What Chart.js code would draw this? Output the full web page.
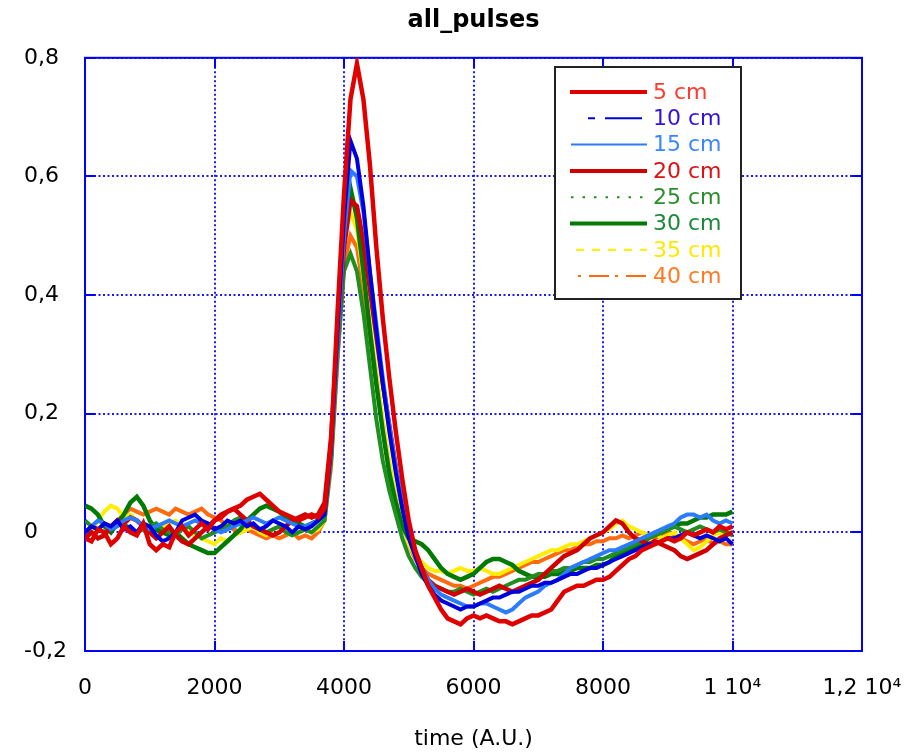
<!DOCTYPE html>
<html><head><meta charset="utf-8">
<script src="https://cdn.jsdelivr.net/npm/chart.js@4.4.0/dist/chart.umd.min.js"></script>
<style>html,body{margin:0;padding:0;background:#fff;}canvas{display:block;}</style>
</head><body>
<canvas id="c" width="907" height="752"></canvas>
<script>
const times = [0,100,200,300,400,500,600,700,800,900,
1000,1100,1200,1300,1400,1500,1600,1700,1800,1900,
2000,2100,2200,2300,2400,2500,2600,2700,2800,2900,
3000,3100,3200,3300,3400,3500,3600,3700,3800,3900,
4000,4100,4200,4300,4400,4500,4600,4700,4800,4900,
5000,5100,5200,5300,5400,5500,5600,5700,5800,5900,
6000,6100,6200,6300,6400,6500,6600,6700,6800,6900,
7000,7100,7200,7300,7400,7500,7600,7700,7800,7900,
8000,8100,8200,8300,8400,8500,8600,8700,8800,8900,
9000,9100,9200,9300,9400,9500,9600,9700,9800,9900,10000];

const s5cm = [-0.01,-0.015,0.005,0.0,-0.02,-0.01,0.01,0.0,-0.005,0.015,
-0.02,-0.03,-0.02,-0.025,0.0,0.01,-0.005,0.005,0.015,0.005,
0.02,0.025,0.035,0.04,0.045,0.055,0.06,0.065,0.055,0.045,
0.035,0.03,0.025,0.02,0.025,0.03,0.025,0.04,0.15,0.37,
0.57,0.73,0.79,0.73,0.62,0.48,0.36,0.26,0.17,0.09,
0.02,-0.03,-0.06,-0.09,-0.11,-0.13,-0.145,-0.15,-0.155,-0.145,
-0.14,-0.145,-0.14,-0.145,-0.15,-0.15,-0.155,-0.15,-0.145,-0.14,
-0.14,-0.135,-0.13,-0.115,-0.1,-0.095,-0.09,-0.09,-0.085,-0.08,
-0.08,-0.075,-0.065,-0.055,-0.045,-0.04,-0.03,-0.025,-0.02,-0.015,
-0.01,-0.015,-0.01,0.0,-0.005,0.0,0.005,0.0,0.01,0.005,0.01];

const s10cm = [0.0,0.01,0.005,0.015,0.01,0.02,0.005,0.01,0.0,0.015,
0.01,-0.005,-0.015,-0.01,0.0,0.02,0.025,0.03,0.02,0.015,
0.005,0.01,0.02,0.015,0.02,0.01,0.015,0.005,0.01,0.02,
0.015,0.01,0.0,0.01,0.005,0.01,0.02,0.03,0.14,0.34,
0.53,0.66,0.63,0.55,0.44,0.34,0.25,0.17,0.1,0.04,
-0.01,-0.04,-0.07,-0.09,-0.105,-0.115,-0.12,-0.125,-0.13,-0.125,
-0.125,-0.12,-0.115,-0.11,-0.11,-0.105,-0.1,-0.1,-0.095,-0.09,
-0.09,-0.085,-0.085,-0.08,-0.075,-0.07,-0.07,-0.065,-0.06,-0.06,
-0.055,-0.05,-0.045,-0.04,-0.035,-0.03,-0.025,-0.02,-0.02,-0.015,
-0.01,-0.01,-0.005,0.0,-0.005,-0.01,-0.005,-0.01,-0.015,-0.01,-0.02];

const s15cm = [0.0,0.01,0.02,0.015,0.005,0.01,0.02,0.025,0.02,0.01,
0.005,0.01,0.015,0.02,0.015,0.01,0.015,0.02,0.015,0.01,
0.005,0.0,0.005,0.01,0.015,0.02,0.025,0.02,0.015,0.02,
0.025,0.02,0.015,0.01,0.01,0.015,0.02,0.03,0.13,0.32,
0.5,0.61,0.6,0.54,0.44,0.35,0.26,0.18,0.11,0.05,
0.0,-0.03,-0.06,-0.08,-0.095,-0.105,-0.11,-0.115,-0.12,-0.125,
-0.125,-0.12,-0.12,-0.125,-0.13,-0.135,-0.13,-0.12,-0.11,-0.105,
-0.1,-0.09,-0.085,-0.08,-0.07,-0.06,-0.055,-0.05,-0.045,-0.04,
-0.035,-0.03,-0.03,-0.025,-0.02,-0.015,-0.01,-0.005,0.0,0.005,
0.01,0.015,0.025,0.03,0.03,0.025,0.03,0.02,0.015,0.02,0.015];

const s20cm = [-0.01,0.0,-0.01,-0.005,0.01,0.02,0.015,0.025,0.02,0.01,
0.0,-0.01,0.0,0.01,-0.005,-0.015,-0.02,-0.01,0.0,0.01,
0.02,0.03,0.035,0.04,0.03,0.02,0.01,0.005,0.0,-0.005,
0.0,0.01,0.02,0.025,0.03,0.025,0.03,0.05,0.16,0.33,
0.48,0.56,0.55,0.49,0.41,0.33,0.25,0.18,0.11,0.05,
0.0,-0.035,-0.06,-0.08,-0.09,-0.095,-0.1,-0.105,-0.1,-0.095,
-0.1,-0.105,-0.1,-0.095,-0.09,-0.095,-0.1,-0.095,-0.09,-0.085,
-0.08,-0.07,-0.06,-0.05,-0.04,-0.035,-0.03,-0.02,-0.01,-0.005,
0.0,0.01,0.02,0.015,0.0,-0.01,-0.015,-0.02,-0.015,-0.02,
-0.025,-0.03,-0.04,-0.045,-0.04,-0.035,-0.03,-0.02,-0.01,-0.005,0.0];

const s25cm = [0.02,0.01,0.005,0.0,0.01,0.02,0.015,0.005,0.0,0.005,
0.01,0.015,0.005,0.0,-0.005,0.005,0.01,0.0,-0.01,-0.005,
0.0,0.005,0.01,0.02,0.025,0.02,0.01,0.005,0.0,0.005,
0.01,0.0,-0.005,0.0,0.005,0.0,0.01,0.02,0.12,0.3,
0.44,0.47,0.44,0.37,0.28,0.19,0.12,0.07,0.03,-0.01,
-0.04,-0.06,-0.075,-0.085,-0.09,-0.095,-0.1,-0.1,-0.095,-0.1,
-0.105,-0.1,-0.095,-0.1,-0.095,-0.09,-0.085,-0.08,-0.08,-0.075,
-0.07,-0.07,-0.065,-0.065,-0.06,-0.06,-0.055,-0.05,-0.05,-0.045,
-0.045,-0.04,-0.035,-0.03,-0.025,-0.02,-0.015,-0.01,-0.005,0.0,
0.005,0.01,0.005,0.0,0.005,0.01,0.005,0.0,0.005,0.0,-0.005];

const s30cm = [0.045,0.04,0.03,0.01,0.0,0.015,0.03,0.05,0.06,0.045,
0.02,0.005,0.0,-0.005,0.0,-0.01,-0.02,-0.025,-0.03,-0.035,
-0.035,-0.025,-0.015,-0.005,0.005,0.02,0.03,0.04,0.045,0.04,
0.035,0.025,0.02,0.015,0.01,0.015,0.02,0.03,0.13,0.33,
0.52,0.58,0.53,0.44,0.34,0.25,0.17,0.1,0.05,0.01,
-0.01,-0.015,-0.02,-0.03,-0.045,-0.06,-0.07,-0.075,-0.08,-0.075,
-0.07,-0.06,-0.05,-0.045,-0.045,-0.05,-0.055,-0.065,-0.07,-0.075,
-0.075,-0.075,-0.07,-0.07,-0.065,-0.065,-0.06,-0.06,-0.06,-0.055,
-0.055,-0.05,-0.04,-0.035,-0.03,-0.025,-0.02,-0.01,-0.005,0.0,
0.005,0.01,0.015,0.015,0.02,0.025,0.025,0.03,0.03,0.03,0.035];

const s35cm = [-0.01,0.0,0.02,0.035,0.045,0.04,0.025,0.03,0.02,0.01,
0.0,0.005,0.01,0.015,0.02,0.01,0.0,-0.005,-0.01,-0.015,
-0.02,-0.01,-0.015,-0.005,0.0,0.005,0.01,0.0,-0.005,0.005,
0.01,0.0,-0.005,0.0,0.005,0.0,0.005,0.02,0.12,0.31,
0.49,0.54,0.51,0.43,0.35,0.27,0.19,0.12,0.06,0.015,
-0.02,-0.04,-0.05,-0.06,-0.065,-0.065,-0.07,-0.065,-0.06,-0.065,
-0.065,-0.06,-0.065,-0.07,-0.07,-0.065,-0.06,-0.055,-0.05,-0.045,
-0.04,-0.035,-0.03,-0.03,-0.025,-0.02,-0.02,-0.015,-0.01,-0.005,
0.0,0.005,0.015,0.02,0.01,0.005,0.0,-0.005,0.0,-0.01,
-0.005,0.0,-0.01,-0.02,-0.03,-0.025,-0.015,-0.005,0.0,-0.005,0.0];

const s40cm = [0.0,0.01,0.02,0.015,0.01,0.02,0.03,0.04,0.035,0.03,
0.035,0.04,0.035,0.03,0.04,0.035,0.03,0.035,0.04,0.03,
0.025,0.02,0.01,0.005,0.0,0.005,0.0,-0.005,-0.01,-0.005,
-0.01,-0.005,0.0,-0.01,-0.005,-0.01,0.0,0.02,0.11,0.29,
0.45,0.5,0.48,0.41,0.33,0.25,0.18,0.11,0.06,0.02,
-0.02,-0.045,-0.06,-0.07,-0.075,-0.08,-0.085,-0.09,-0.09,-0.095,
-0.09,-0.085,-0.08,-0.075,-0.075,-0.07,-0.065,-0.06,-0.055,-0.05,
-0.05,-0.045,-0.04,-0.035,-0.03,-0.03,-0.025,-0.02,-0.02,-0.015,
-0.015,-0.01,-0.01,-0.005,-0.01,-0.005,0.0,-0.005,-0.01,-0.005,
0.0,-0.005,-0.01,-0.015,-0.02,-0.015,-0.01,-0.02,-0.015,-0.02,-0.02];

const seriesNames = ['5 cm','10 cm','15 cm','20 cm','25 cm','30 cm','35 cm','40 cm'];
const seriesValues = [s5cm,s10cm,s15cm,s20cm,s25cm,s30cm,s35cm,s40cm];

const xTickValues = [0,2000,4000,6000,8000,10000,12000];
const xTickLabels = ['0','2000','4000','6000','8000','1 10\u2074','1,2 10\u2074'];
const yTickValues = [-0.2,0,0.2,0.4,0.6,0.8];
const yTickLabels = ['-0,2','0','0,2','0,4','0,6','0,8'];

const lineColors = ['#e00000','#0000dd','#2b7bff','#d00000','#1f8f1f','#007a00','#ffee00','#ff6a10'];
const textColors = ['#ff3b2f','#3311dd','#3a86ff','#dd1111','#2a8f2a','#1a8a3a','#ffe800','#ff7a20'];
const legendLine = [
  {x0:570, w:4, dash:[]},
  {x0:588, w:2, dash:[7,10,37,10]},
  {x0:571, w:2, dash:[]},
  {x0:570, w:4, dash:[]},
  {x0:571, w:2, dash:[2.5,9]},
  {x0:570, w:4, dash:[]},
  {x0:576, w:2, dash:[8,8]},
  {x0:578, w:2, dash:[3,8,20,6]}
];

const FONT = '"DejaVu Sans", sans-serif';
Chart.defaults.font.family = FONT;
Chart.defaults.color = '#000';

function lookup(vals, labels, v){
  for (let i=0;i<vals.length;i++) if (Math.abs(vals[i]-v) < 1e-6) return labels[i];
  return '';
}

const decoPlugin = {
  id:'deco',
  beforeDatasetsDraw(chart){
    const ctx = chart.ctx, a = chart.chartArea;
    const xs = chart.scales.x, ys = chart.scales.y;
    ctx.save();
    ctx.strokeStyle = '#0000ff';
    ctx.lineWidth = 2;
    ctx.setLineDash([]);
    ctx.beginPath();
    xTickValues.forEach(v=>{
      const px = Math.round(xs.getPixelForValue(v));
      ctx.moveTo(px, a.top); ctx.lineTo(px, a.top+10);
      ctx.moveTo(px, a.bottom); ctx.lineTo(px, a.bottom-10);
    });
    yTickValues.forEach(v=>{
      const py = Math.round(ys.getPixelForValue(v));
      ctx.moveTo(a.left, py); ctx.lineTo(a.left+10, py);
      ctx.moveTo(a.right, py); ctx.lineTo(a.right-10, py);
    });
    ctx.stroke();
    ctx.strokeRect(a.left, a.top, a.right-a.left, a.bottom-a.top);
    ctx.restore();
  },
  afterDraw(chart){
    const ctx = chart.ctx;
    ctx.save();
    ctx.fillStyle = '#fff';
    ctx.fillRect(555,67,186,232);
    ctx.strokeStyle = '#222';
    ctx.lineWidth = 2;
    ctx.strokeRect(555,67,186,232);
    legendLine.forEach((st,k)=>{
      const y = 92 + k*26.3;
      ctx.beginPath();
      ctx.setLineDash(st.dash);
      ctx.lineWidth = st.w;
      ctx.strokeStyle = lineColors[k];
      ctx.moveTo(st.x0, y); ctx.lineTo(647, y);
      ctx.stroke();
      ctx.setLineDash([]);
      ctx.fillStyle = textColors[k];
      ctx.font = '22px ' + FONT;
      ctx.textBaseline = 'middle';
      ctx.textAlign = 'left';
      ctx.fillText(seriesNames[k], 653, y+1);
    });
    ctx.restore();
  }
};

const datasets = seriesValues.map((vals,k)=>({
  label: seriesNames[k],
  data: times.map((t,i)=>({x:t, y:vals[i]})),
  borderColor: lineColors[k],
  backgroundColor: lineColors[k],
  borderWidth: (k===0||k===3||k===5) ? 4.5 : 4,
  pointRadius: 0,
  tension: 0,
  fill: false
}));

new Chart(document.getElementById('c'), {
  type: 'line',
  data: { datasets },
  plugins: [decoPlugin],
  options: {
    responsive: false,
    animation: false,
    devicePixelRatio: 1,
    layout: { padding: { left: 24, right: 45, top: 0, bottom: 0 } },
    plugins: {
      legend: { display: false },
      tooltip: { enabled: false },
      title: {
        display: true, text: 'all_pulses', fullSize: false,
        font: { size: 24, weight: 'bold', family: FONT },
        color: '#000',
        padding: { top: 6, bottom: 23 }
      }
    },
    scales: {
      x: {
        type: 'linear', min: 0, max: 12000,
        border: { display: false, dash: [2,2.5] },
        grid: { color: '#1a1aff', lineWidth: 2, drawTicks: false },
        ticks: { stepSize: 2000, padding: 24, font: { size: 22 }, color: '#000', maxRotation: 0,
          callback: v => lookup(xTickValues, xTickLabels, v) },
        title: { display: true, text: 'time (A.U.)', font: { size: 22 }, color: '#000', padding: { top: 0, bottom: 0 } },
        afterFit: s => { s.height = 101; s.paddingLeft = 0; s.paddingRight = 0; }
      },
      y: {
        type: 'linear', min: -0.2, max: 0.8,
        border: { display: false, dash: [2,2.5] },
        grid: { color: '#1a1aff', lineWidth: 2, drawTicks: false },
        ticks: { stepSize: 0.2, padding: 10, crossAlign: 'far', font: { size: 22 }, color: '#000',
          callback: v => lookup(yTickValues, yTickLabels, v) },
        afterFit: s => { s.width = 61; s.paddingTop = 0; s.paddingBottom = 0; }
      }
    }
  }
});
</script>
</body></html>
